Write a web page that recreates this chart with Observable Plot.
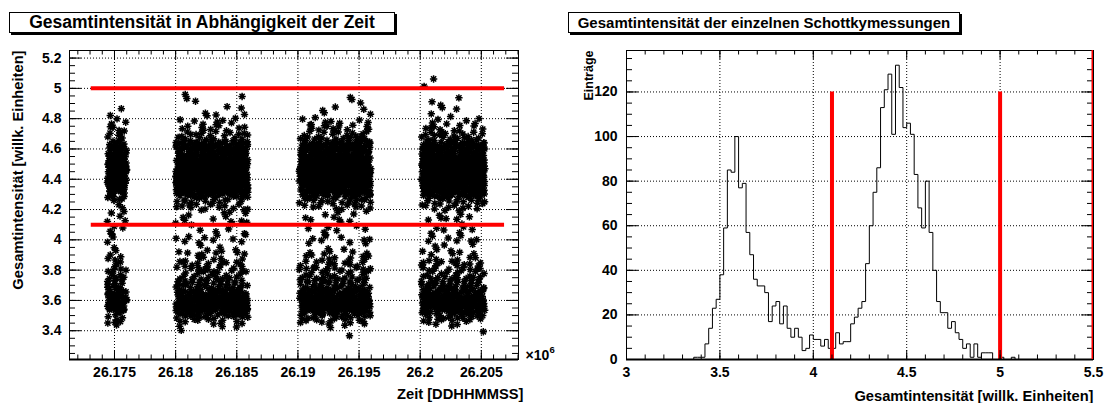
<!DOCTYPE html>
<html><head><meta charset="utf-8">
<script src="https://cdn.jsdelivr.net/npm/d3@7"></script>
<script src="https://cdn.jsdelivr.net/npm/@observablehq/plot@0.6"></script>
<style>
body{margin:0;background:#fff;}
#root{position:relative;width:1107px;height:403px;overflow:hidden;font-family:"Liberation Sans",Arial,sans-serif;background:#fff;}
.panel{position:absolute;top:0;}
.title{position:absolute;top:12px;height:21px;border:1px solid #000;box-shadow:2px 2px 0 #000;background:#fff;font-weight:bold;text-align:center;line-height:19px;box-sizing:border-box;white-space:nowrap;color:#000;}
</style></head>
<body><div id="root">
<div class="panel" id="left" style="left:0px"></div>
<div class="panel" id="right" style="left:560px"></div>
<div class="title" style="left:9px;width:386px;font-size:17.5px;">Gesamtintensität in Abhängigkeit der Zeit</div>
<div class="title" style="left:568px;width:392px;font-size:15px;">Gesamtintensität der einzelnen Schottkymessungen</div>
</div>
<script>
// ---------------- data ----------------
// Histogram of total intensity: bins of 0.02 from 3.00 to 5.50 (125 bins)
const histStart = 3.0;
const binWidth = 0.02;
const histCounts = [
  0,0,0,0,0,0,0,0,0,0,0,0,0,0,0,0,0,0,            // 3.00 - 3.34
  1,1,1,7,14,23,27,38,59,85,                      // 3.36 - 3.54
  84,100,77,79,57,47,36,33,33,30,                 // 3.56 - 3.74
  17,24,26,16,24,14,10,14,10,4,                   // 3.76 - 3.94
  5,11,9,9,6,9,5,5,12,7,                          // 3.96 - 4.14
  8,8,16,19,23,26,43,60,75,86,                    // 4.16 - 4.34
  113,121,128,101,132,122,104,106,101,83,         // 4.36 - 4.54
  68,59,80,57,40,26,21,21,14,17,                  // 4.56 - 4.74
  12,9,5,7,1,7,1,3,3,3,                           // 4.76 - 4.94
  0,0,1,0,0,1,                                    // 4.96 - 5.06
  0,0,0,0,0,0,0,0,0,0,0,0,0,0,0,0,0,0,0,0,0       // 5.08 - 5.48
];
// measurement runs in time (units of 10^6 DDHHMMSS)
const runStart = [26.1744, 26.1800, 26.1901, 26.2001];
const runEnd   = [26.1760, 26.1859, 26.1960, 26.2053];
// cut lines
const cutLow = 4.1, cutHigh = 5.0;
const cutTimeFrom = 26.1731, cutTimeTo = 26.2069;
const cutHistTop = 120;
// axes
const xDomainL = [26.17132, 26.20804];
const yDomainL = [3.21, 5.25];
const xMajorL = [26.175, 26.18, 26.185, 26.19, 26.195, 26.2, 26.205];
const yMajorL = [3.4, 3.6, 3.8, 4.0, 4.2, 4.4, 4.6, 4.8, 5.0, 5.2];
const xDomainR = [3, 5.5];
const yDomainR = [0, 138.6];
const xMajorR = [3, 3.5, 4, 4.5, 5, 5.5];
const yMajorR = [0, 20, 40, 60, 80, 100, 120];

const xMinorL = d3.range(26172, 26209).map(d => d / 1000);
const yMinorL = d3.range(65, 106).map(d => d / 20);
const xMinorR = d3.range(30, 56).map(d => d / 10);
const yMinorR = d3.range(0, 140, 5);

// ---------------- derived tables ----------------
const histPoints = histCounts.map((c, i) => ({x: histStart + i * binWidth, y: c}));
histPoints.push({x: histStart + histCounts.length * binWidth, y: 0});

// each histogram entry is one measurement; place it inside its intensity bin
// and inside the active measurement time (Halton layout, no randomness)
function halton(i, b) { let f = 1, r = 0; while (i > 0) { f /= b; r += f * (i % b); i = Math.floor(i / b); } return r; }
const runs = runStart.map((s, i) => ({s, e: runEnd[i]}));
const totalDur = d3.sum(runs, r => r.e - r.s);
const points = [];
let k = 1;
histCounts.forEach((c, b) => {
  const y0 = histStart + b * binWidth;
  for (let j = 0; j < c; j++, k++) {
    const t = ((halton(k, 2) + b * 0.6180339887) % 1) * totalDur;
    const u = halton(k, 3);
    let acc = 0, x = runs[runs.length - 1].e;
    for (const r of runs) { const d = r.e - r.s; if (t < acc + d) { x = r.s + (t - acc); break; } acc += d; }
    points.push({x, y: y0 + u * binWidth});
  }
});

// ---------------- helpers ----------------
const FONT = '"Liberation Sans", Arial, sans-serif';
const star = {
  draw(ctx, size) {
    const r = Math.sqrt(size / Math.PI), d = r * 0.7071;
    ctx.moveTo(-r, 0); ctx.lineTo(r, 0);
    ctx.moveTo(0, -r); ctx.lineTo(0, r);
    ctx.moveTo(-d, -d); ctx.lineTo(d, d);
    ctx.moveTo(-d, d); ctx.lineTo(d, -d);
  }
};
function frameTicks(xs, ys, H, W, xLen, yLen, domX, domY) {
  const fx = xs.filter(v => v >= domX[0] && v <= domX[1]);
  const fy = ys.filter(v => v >= domY[0] && v <= domY[1]);
  return [
    Plot.tickX(fx, {x: d => d, insetTop: H - xLen, stroke: "black"}),
    Plot.tickX(fx, {x: d => d, insetBottom: H - xLen, stroke: "black"}),
    Plot.tickY(fy, {y: d => d, insetRight: W - yLen, stroke: "black"}),
    Plot.tickY(fy, {y: d => d, insetLeft: W - yLen, stroke: "black"})
  ];
}
const grid = (xs, ys) => [
  Plot.ruleX(xs, {x: d => d, stroke: "black", strokeWidth: 1, strokeDasharray: "1,2"}),
  Plot.ruleY(ys, {y: d => d, stroke: "black", strokeWidth: 1, strokeDasharray: "1,2"})
];
const txt = {fontSize: 14, fontWeight: "bold", fill: "black"};
const ttl = {fontSize: 14.7, fontWeight: "bold", fill: "black"};

// ---------------- left panel ----------------
const LW = 560, LH = 403, LmL = 69, LmR = 42, LmT = 50, LmB = 44;
const left = Plot.plot({
  width: LW, height: LH,
  marginLeft: LmL, marginRight: LmR, marginTop: LmT, marginBottom: LmB,
  x: {domain: xDomainL, axis: null},
  y: {domain: yDomainL, axis: null},
  style: {fontFamily: FONT, background: "white", overflow: "visible"},
  marks: [
    ...grid(xMajorL, yMajorL),
    Plot.dot(points, {x: "x", y: "y", symbol: star, r: 3.7, fill: "none", stroke: "black", strokeWidth: 1.5}),
    Plot.ruleY([cutHigh, cutLow], {y: d => d, x1: cutTimeFrom, x2: cutTimeTo, stroke: "#ff0000", strokeWidth: 4}),
    ...frameTicks(xMinorL, yMinorL, LH - LmT - LmB, LW - LmL - LmR, 4.5, 6, xDomainL, yDomainL),
    ...frameTicks(xMajorL, yMajorL, LH - LmT - LmB, LW - LmL - LmR, 9, 12, xDomainL, yDomainL),
    Plot.frame({stroke: "black", strokeWidth: 1}),
    Plot.ruleY([yDomainL[0]], {stroke: "black", strokeWidth: 2}),
    Plot.axisX(xMajorL, {anchor: "bottom", tickSize: 0, tickPadding: 8, tickFormat: d => String(+d.toFixed(3)), label: null, ...txt}),
    Plot.axisY(yMajorL, {anchor: "left", tickSize: 0, tickPadding: 8, tickFormat: d => String(+d.toFixed(1)), label: null, ...txt}),
    Plot.text(["Zeit [DDHHMMSS]"], {frameAnchor: "bottom-right", dx: 5, dy: 35, textAnchor: "end", lineAnchor: "middle", ...ttl}),
    Plot.text(["Gesamtintensität [willk. Einheiten]"], {frameAnchor: "top-left", dx: -51, rotate: -90, textAnchor: "end", lineAnchor: "middle", ...ttl}),
    Plot.text(["×10"], {frameAnchor: "bottom-right", dx: 7, dy: -4, textAnchor: "start", lineAnchor: "middle", fontSize: 14, fontWeight: "bold", fill: "black"}),
    Plot.text(["6"], {frameAnchor: "bottom-right", dx: 31, dy: -10, textAnchor: "start", lineAnchor: "middle", fontSize: 9.5, fontWeight: "bold", fill: "black"})
  ]
});
document.getElementById("left").appendChild(left);

// ---------------- right panel ----------------
const RW = 547, RH = 403, RmL = 66, RmR = 14, RmT = 50, RmB = 44;
const right = Plot.plot({
  width: RW, height: RH,
  marginLeft: RmL, marginRight: RmR, marginTop: RmT, marginBottom: RmB,
  x: {domain: xDomainR, axis: null},
  y: {domain: yDomainR, axis: null},
  style: {fontFamily: FONT, background: "white", overflow: "visible"},
  marks: [
    ...grid(xMajorR, yMajorR),
    Plot.line(histPoints, {x: "x", y: "y", curve: "step-after", stroke: "black", strokeWidth: 1}),
    Plot.ruleX([cutLow, cutHigh], {x: d => d, y1: 0, y2: cutHistTop, stroke: "#ff0000", strokeWidth: 4}),
    ...frameTicks(xMinorR, yMinorR, RH - RmT - RmB, RW - RmL - RmR, 4.5, 6, xDomainR, yDomainR),
    ...frameTicks(xMajorR, yMajorR, RH - RmT - RmB, RW - RmL - RmR, 9, 12, xDomainR, yDomainR),
    Plot.frame({stroke: "black", strokeWidth: 1}),
    Plot.ruleY([yDomainR[0]], {stroke: "black", strokeWidth: 2}),
    Plot.ruleX([xDomainR[1]], {stroke: "#ff0000", strokeWidth: 4, clip: true}),
    Plot.axisX(xMajorR, {anchor: "bottom", tickSize: 0, tickPadding: 8, tickFormat: d => String(d), label: null, ...txt}),
    Plot.axisY(yMajorR, {anchor: "left", tickSize: 0, tickPadding: 9, tickFormat: d => String(d), label: null, ...txt}),
    Plot.text(["Gesamtintensität [willk. Einheiten]"], {frameAnchor: "bottom-right", dx: 0, dy: 37, textAnchor: "end", lineAnchor: "middle", ...ttl}),
    Plot.text(["Einträge"], {frameAnchor: "top-left", dx: -38, rotate: -90, textAnchor: "end", lineAnchor: "middle", fontSize: 12.5, fontWeight: "bold", fill: "black"})
  ]
});
document.getElementById("right").appendChild(right);
</script>
</body></html>
